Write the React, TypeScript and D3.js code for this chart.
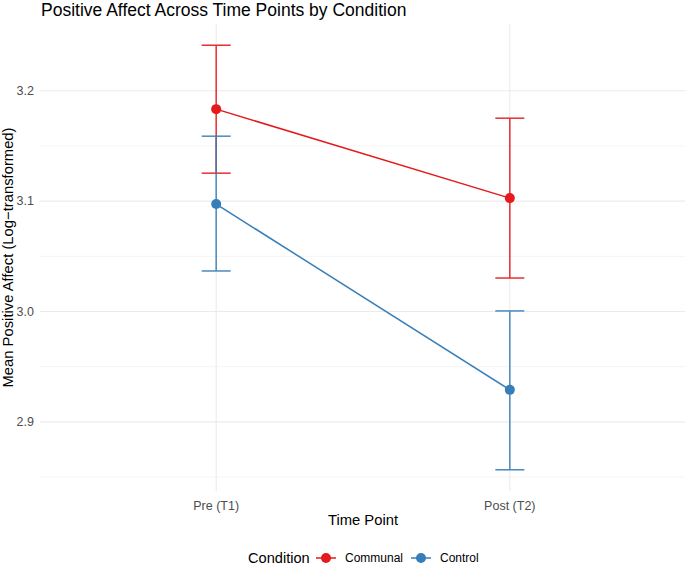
import React from "react";
import * as d3 from "d3";

const timePoints = ["Pre (T1)", "Post (T2)"];
const conditions = ["Communal", "Control"];
const communalMean = [3.1833, 3.1027];
const communalLower = [3.1253, 3.0303];
const communalUpper = [3.2412, 3.1751];
const controlMean = [3.0973, 2.929];
const controlLower = [3.0367, 2.8566];
const controlUpper = [3.1588, 3.0005];
const yTicks = [2.9, 3.0, 3.1, 3.2];
const yMinor = [2.85, 2.95, 3.05, 3.15];
const colors = ["#E41A1C", "#377EB8"];

const W = 685, H = 566;
const FONT = "'Liberation Sans', Arial, Helvetica, sans-serif";

export default function App() {
  const left = 40, right = 686, top = 24, bottom = 491;
  const x = d3.scalePoint<string>().domain(timePoints).range([left, right]).padding(0.6);
  const allVals = [...communalLower, ...communalUpper, ...controlLower, ...controlUpper];
  const lo = d3.min(allVals)!, hi = d3.max(allVals)!;
  const pad = (hi - lo) * 0.05;
  const y = d3.scaleLinear().domain([lo - pad, hi + pad]).range([bottom, top]);

  const series = [
    { name: conditions[0], mean: communalMean, lower: communalLower, upper: communalUpper, color: colors[0] },
    { name: conditions[1], mean: controlMean, lower: controlLower, upper: controlUpper, color: colors[1] },
  ];
  const line = d3.line<number>().x((_, i) => x(timePoints[i])!).y((d) => y(d));
  const capW = 14.5;

  return (
    <svg width={W} height={H} style={{ position: "absolute", left: 0, top: 0, background: "#fff" }} fontFamily={FONT}>
      <rect width={W} height={H} fill="#fff" />
      {yMinor.map((t) => (
        <line key={"m" + t} x1={left} x2={right} y1={y(t)} y2={y(t)} stroke="#ebebeb" strokeWidth={0.55} />
      ))}
      {yTicks.map((t) => (
        <line key={"g" + t} x1={left} x2={right} y1={y(t)} y2={y(t)} stroke="#ebebeb" strokeWidth={1.1} />
      ))}
      {timePoints.map((t) => (
        <line key={"v" + t} x1={x(t)} x2={x(t)} y1={top} y2={bottom} stroke="#ebebeb" strokeWidth={1.1} />
      ))}
      {yTicks.map((t) => (
        <text key={"yt" + t} x={34} y={y(t)} dy="0.35em" textAnchor="end" fontSize={12.5} fill="#4d4d4d">
          {t.toFixed(1)}
        </text>
      ))}
      {timePoints.map((t) => (
        <text key={"xt" + t} x={x(t)} y={510} textAnchor="middle" fontSize={12.5} fill="#4d4d4d">
          {t}
        </text>
      ))}
      {series.map((s) => (
        <g key={s.name}>
          {timePoints.map((t, i) => (
            <g key={t} stroke={s.color} strokeWidth={1.5} opacity={0.9}>
              <line x1={x(t)} x2={x(t)} y1={y(s.lower[i])} y2={y(s.upper[i])} />
              <line x1={x(t)! - capW} x2={x(t)! + capW} y1={y(s.lower[i])} y2={y(s.lower[i])} />
              <line x1={x(t)! - capW} x2={x(t)! + capW} y1={y(s.upper[i])} y2={y(s.upper[i])} />
            </g>
          ))}
          <path d={line(s.mean)!} fill="none" stroke={s.color} strokeWidth={1.5} />
          {timePoints.map((t, i) => (
            <circle key={"p" + t} cx={x(t)} cy={y(s.mean[i])} r={5} fill={s.color} />
          ))}
        </g>
      ))}
      <text x={41} y={16} fontSize={17.5} fill="#000">Positive Affect Across Time Points by Condition</text>
      <text x={(left + right) / 2} y={525} textAnchor="middle" fontSize={14.8} fill="#000">Time Point</text>
      <text transform={`translate(13,${(top + bottom) / 2}) rotate(-90)`} textAnchor="middle" fontSize={14.8} fill="#000">
        Mean Positive Affect (Log−transformed)
      </text>
      <g>
        <text x={248} y={557.5} dy="0.35em" fontSize={14.6} fill="#000">Condition</text>
        {series.map((s, i) => {
          const kx = i === 0 ? 316 : 411;
          const cy = 558;
          return (
            <g key={"lg" + s.name}>
              <line x1={kx} x2={kx + 20} y1={cy} y2={cy} stroke={s.color} strokeWidth={1.5} />
              <circle cx={kx + 10} cy={cy} r={5} fill={s.color} />
              <text x={kx + 29} y={cy} dy="0.35em" fontSize={12} fill="#000">{s.name}</text>
            </g>
          );
        })}
      </g>
    </svg>
  );
}
